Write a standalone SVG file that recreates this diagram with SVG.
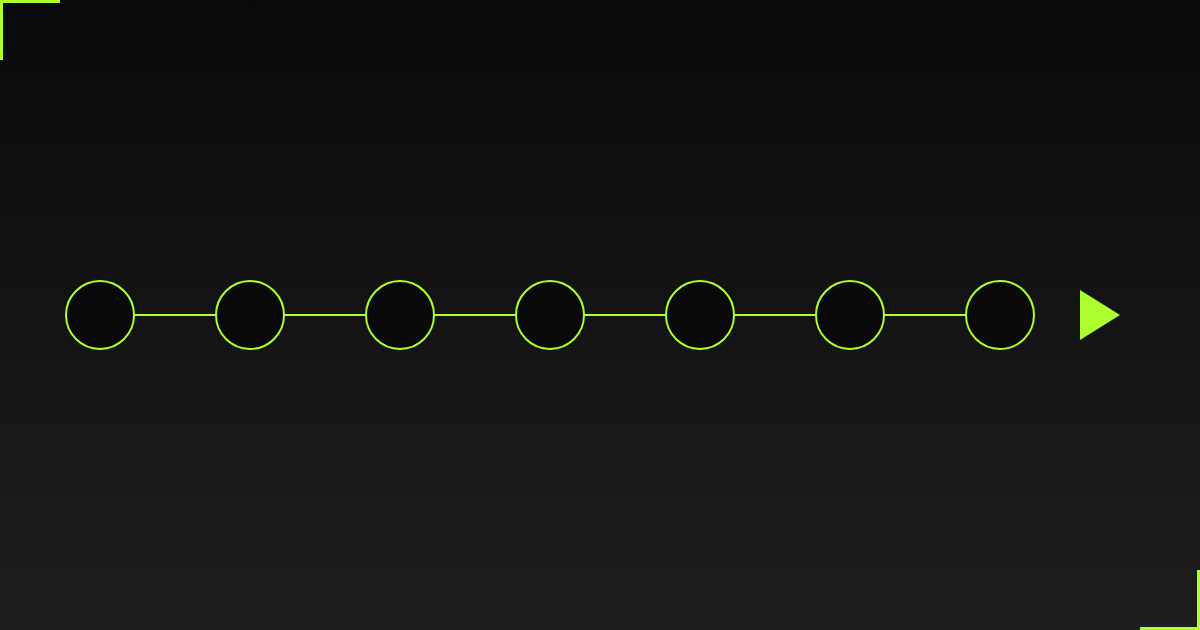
<svg xmlns="http://www.w3.org/2000/svg" width="1200" height="630" viewBox="0 0 1200 630">
<defs>
<linearGradient id="bg" x1="0" y1="0" x2="0" y2="1">
<stop offset="0" stop-color="#0a0a0a"/>
<stop offset="1" stop-color="#1e1e1e"/>
</linearGradient>
<style>
.node{fill:#0a0a0a;stroke:#adff2f;stroke-width:2}
.edge{stroke:#adff2f;stroke-width:2;fill:none}
.corner{stroke:#adff2f;stroke-width:6;fill:none}
</style>
</defs>
<rect width="1200" height="630" fill="url(#bg)"/>
<path class="corner" d="M0 60 L0 0 L60 0"/>
<path class="corner" d="M1200 570 L1200 630 L1140 630"/>
<g id="connectors">
<line class="edge" x1="134" y1="315" x2="216" y2="315"/>
<line class="edge" x1="284" y1="315" x2="366" y2="315"/>
<line class="edge" x1="434" y1="315" x2="516" y2="315"/>
<line class="edge" x1="584" y1="315" x2="666" y2="315"/>
<line class="edge" x1="734" y1="315" x2="816" y2="315"/>
<line class="edge" x1="884" y1="315" x2="966" y2="315"/>
</g>
<g id="n1"><circle class="node" cx="100" cy="315" r="34"/></g>
<g id="n2"><circle class="node" cx="250" cy="315" r="34"/></g>
<g id="n3"><circle class="node" cx="400" cy="315" r="34"/></g>
<g id="n4"><circle class="node" cx="550" cy="315" r="34"/></g>
<g id="n5"><circle class="node" cx="700" cy="315" r="34"/></g>
<g id="n6"><circle class="node" cx="850" cy="315" r="34"/></g>
<g id="n7"><circle class="node" cx="1000" cy="315" r="34"/></g>
<g id="arrow"><polygon points="1080,290 1120,315 1080,340" fill="#adff2f"/></g>
</svg>
